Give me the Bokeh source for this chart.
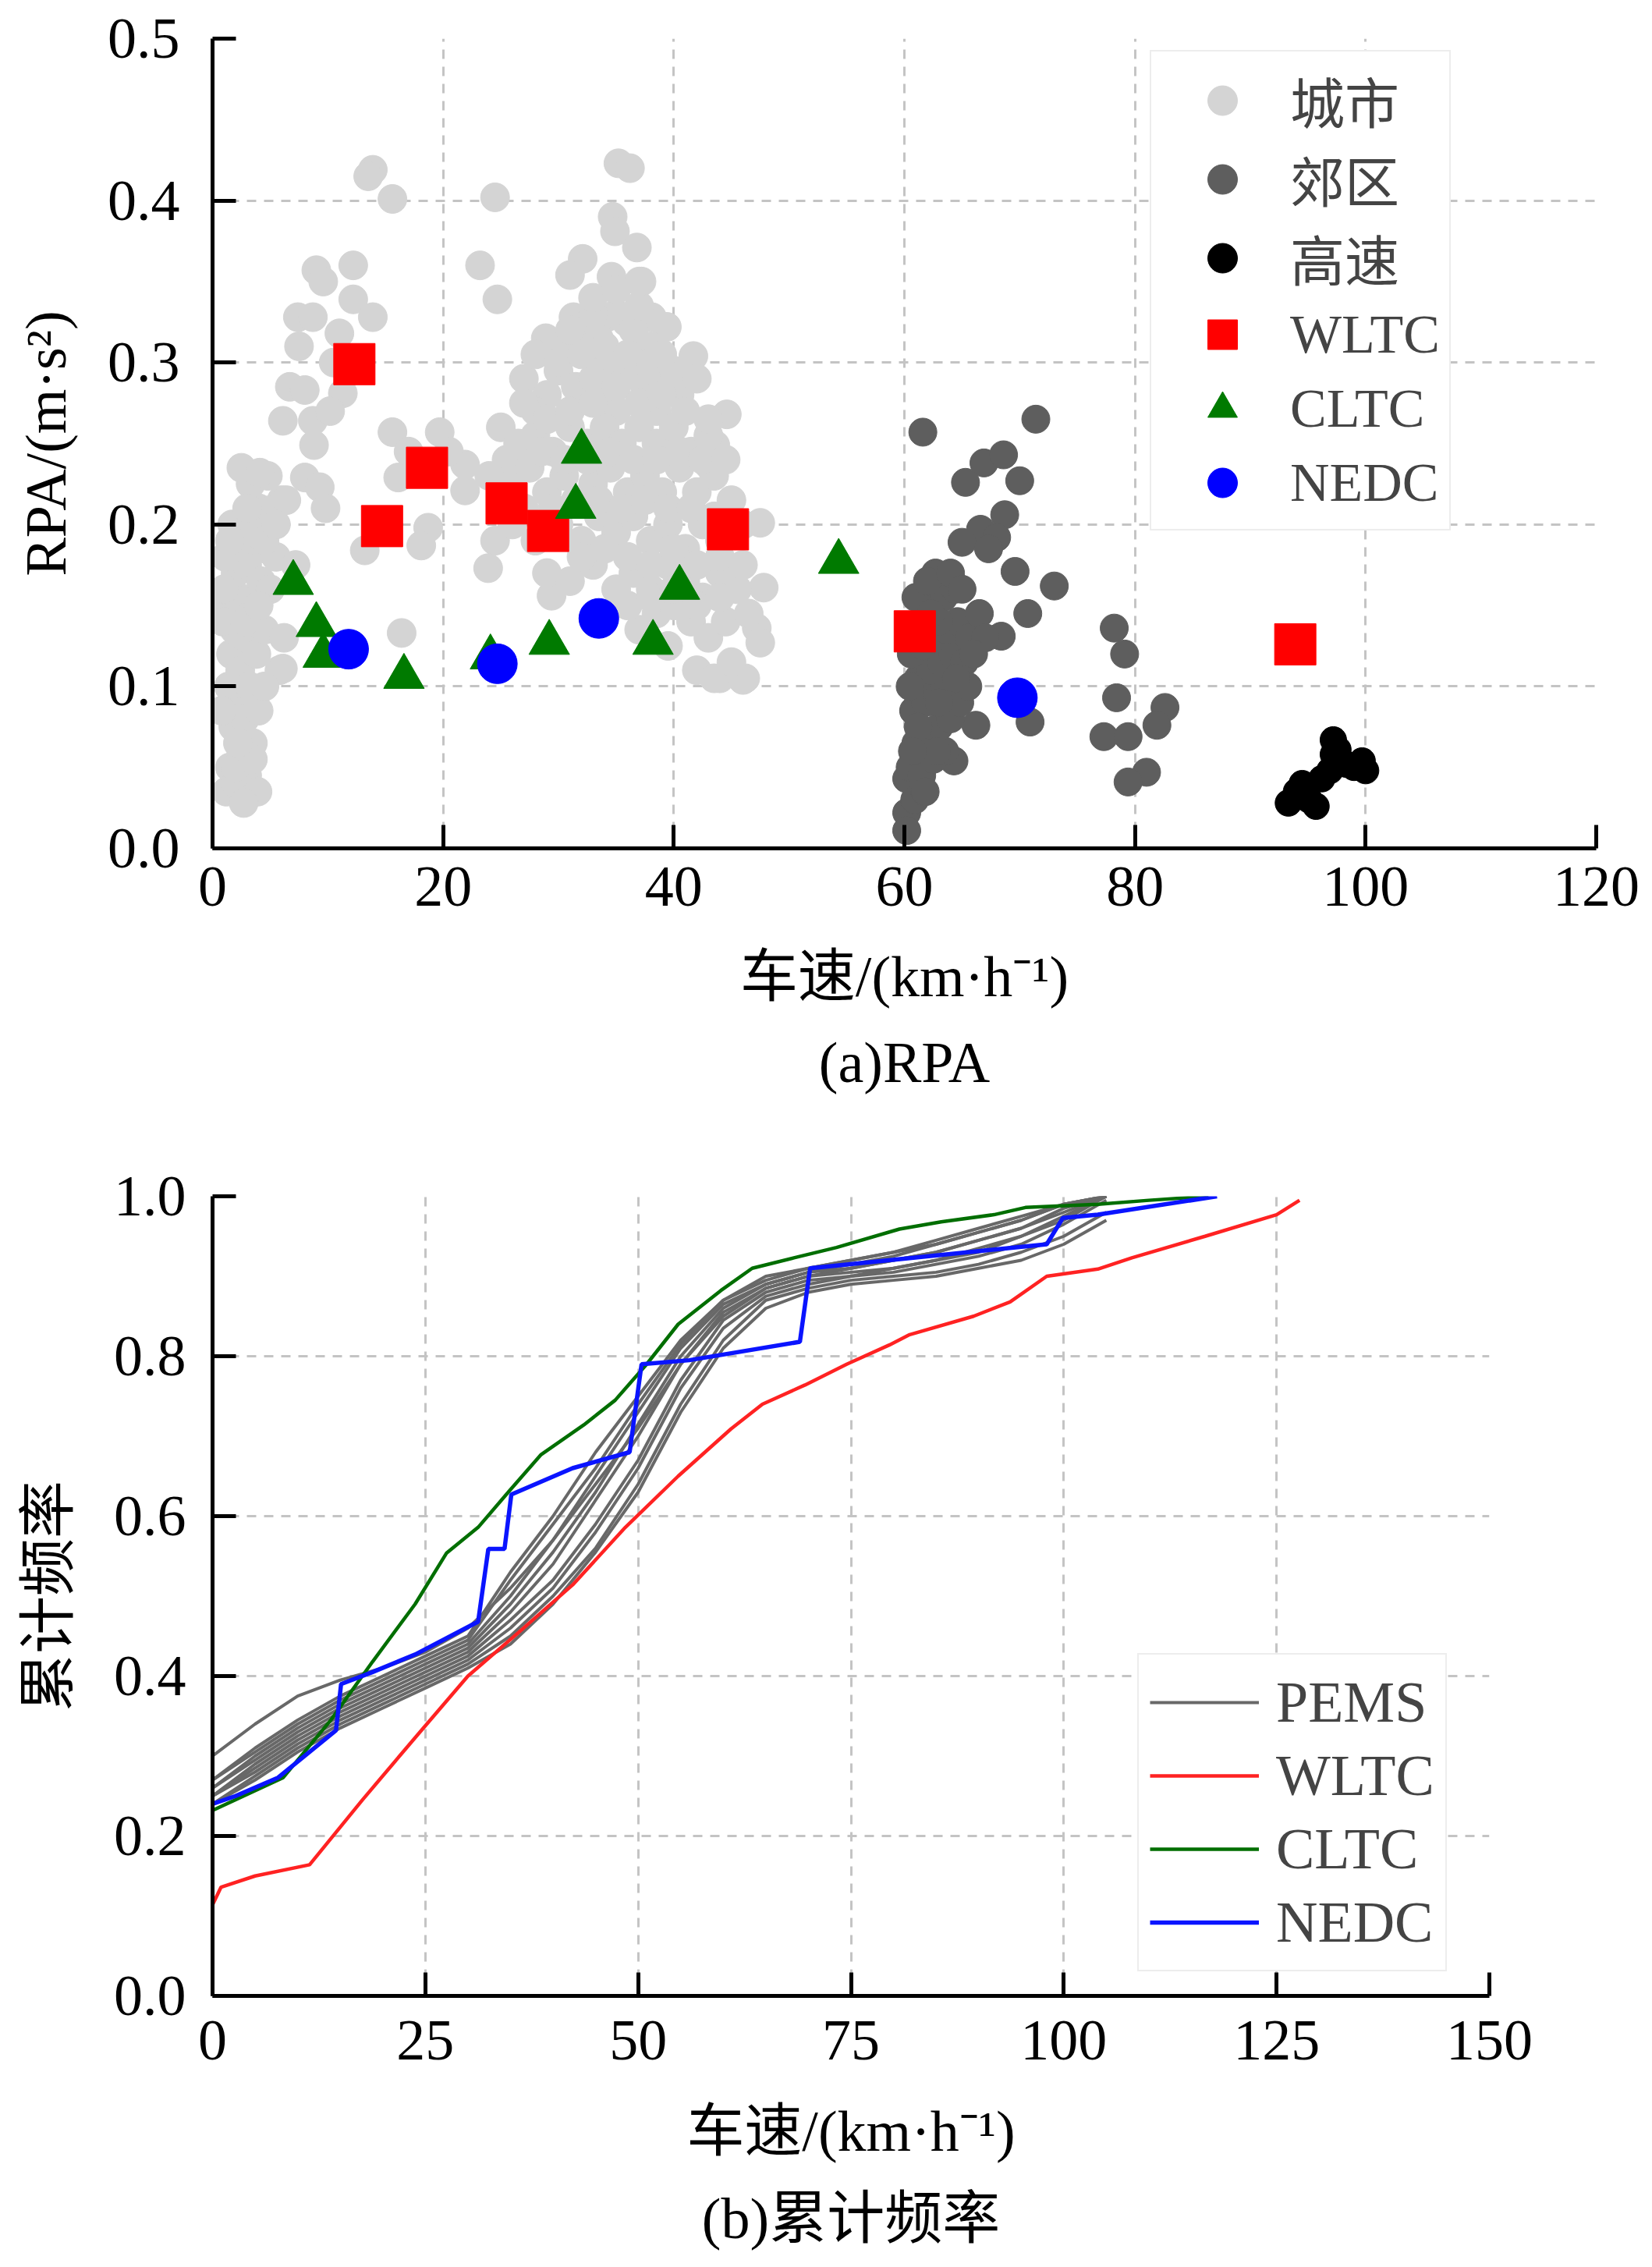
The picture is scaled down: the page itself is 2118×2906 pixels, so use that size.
from bokeh.plotting import figure
from bokeh.models import (Range1d, FixedTicker, NumeralTickFormatter, Legend,
                          LegendItem, Title)
from bokeh.layouts import column
from bokeh.embed import file_html
from bokeh.resources import INLINE

FONT = "'Liberation Serif', 'Noto Sans CJK SC', serif"
FS = "74px"

# ---------------- (a) RPA scatter data ----------------
# urban (城市): left band
urban_x_a = [1.2, 1.5, 2.0, 2.5, 1.8, 3.0, 2.2, 1.4, 2.8, 3.5,
             1.6, 2.4, 3.2, 4.0, 1.9, 2.9, 3.8, 1.3, 2.3, 3.4,
             4.5, 2.0, 3.0, 4.2, 5.0, 2.6, 3.6, 4.6, 5.5, 1.7,
             4.0, 5.2, 3.3, 4.8, 6.0, 2.5, 0.8, 3.9, 2.7, 6.2,
             5.8, 0.9, 1.1]
urban_y_a = [0.035, 0.05, 0.04, 0.06, 0.075, 0.045, 0.09, 0.10, 0.08, 0.065,
             0.12, 0.11, 0.10, 0.085, 0.135, 0.13, 0.12, 0.15, 0.155, 0.145,
             0.135, 0.17, 0.175, 0.165, 0.16, 0.19, 0.195, 0.185, 0.18, 0.20,
             0.21, 0.205, 0.225, 0.23, 0.215, 0.235, 0.085, 0.035, 0.028, 0.13,
             0.11, 0.14, 0.18]
# urban: sparse upper-left
urban_x_b = [13.9, 13.5, 15.6, 9.0, 9.6, 12.2, 12.2, 7.4, 8.7, 13.9,
             6.7, 8.0, 11.3, 6.1, 8.7, 8.8, 15.6, 4.1, 8.0, 9.3,
             3.2, 5.1, 6.4, 19.7, 21.9, 21.9, 16.1, 18.7, 18.1, 13.2,
             16.4, 6.1, 10.5, 7.5, 11.0, 10.2, 4.5, 7.2, 9.8, 20.5,
             17.0, 11.5]
urban_y_b = [0.419, 0.415, 0.401, 0.357, 0.350, 0.360, 0.339, 0.328, 0.328, 0.328,
             0.285, 0.283, 0.281, 0.264, 0.264, 0.249, 0.257, 0.232, 0.229, 0.223,
             0.204, 0.209, 0.215, 0.257, 0.237, 0.221, 0.229, 0.198, 0.187, 0.184,
             0.133, 0.111, 0.300, 0.310, 0.318, 0.270, 0.190, 0.175, 0.210, 0.245,
             0.245, 0.125]
# urban: sparse middle
urban_x_c = [24.5, 35.2, 36.2, 34.7, 34.9, 36.8, 23.2, 32.1, 31.0, 34.6,
             37.2, 24.7, 31.3, 34.2, 35.9, 38.1, 39.4, 28.9, 41.7, 44.6,
             43.6, 43.0, 24.5, 23.9, 47.5, 45.2, 47.8, 47.2, 47.5, 44.0,
             46.2, 29.4]
urban_y_c = [0.402, 0.423, 0.420, 0.390, 0.381, 0.371, 0.360, 0.364, 0.354, 0.353,
             0.350, 0.339, 0.328, 0.328, 0.325, 0.328, 0.322, 0.315, 0.304, 0.268,
             0.249, 0.237, 0.190, 0.173, 0.201, 0.173, 0.161, 0.136, 0.127, 0.105,
             0.105, 0.156]
# urban: dense cloud
urban_x_d = [30.5, 32.0, 33.5, 35.0, 36.5, 38.0, 34.0, 37.0, 33.0,
             27.0, 29.0, 30.0, 31.5, 33.0, 34.5, 36.0, 37.5, 39.0, 40.5, 28.0, 35.0, 38.5,
             25.0, 26.5, 28.0, 29.5, 31.0, 32.5, 34.0, 35.5, 37.0, 38.5, 40.0, 41.5, 43.0, 25.5,
             24.0, 26.0, 27.5, 29.0, 30.5, 33.0, 34.5, 36.0, 37.5, 39.0, 40.5, 42.0, 43.5, 45.0,
             26.0, 28.0, 30.0, 32.0, 33.5, 35.0, 36.5, 38.0, 39.5, 41.0, 42.5, 44.0, 46.0, 27.0,
             29.0, 31.0, 33.0, 35.0, 36.5, 38.0, 39.5, 41.0, 42.5, 44.0, 45.5,
             37.0, 38.5, 41.5, 43.0, 44.5, 40.0, 42.0, 43.5, 46.0, 45.0, 39.5]
urban_y_d = [0.310, 0.320, 0.315, 0.330, 0.320, 0.310, 0.300, 0.335, 0.330,
             0.290, 0.280, 0.295, 0.285, 0.290, 0.280, 0.295, 0.285, 0.290, 0.280, 0.270, 0.270, 0.270,
             0.260, 0.250, 0.255, 0.245, 0.260, 0.250, 0.260, 0.250, 0.260, 0.250, 0.260, 0.245, 0.255, 0.240,
             0.230, 0.225, 0.235, 0.220, 0.230, 0.225, 0.235, 0.220, 0.230, 0.220, 0.235, 0.220, 0.230, 0.215,
             0.200, 0.190, 0.200, 0.190, 0.205, 0.195, 0.205, 0.190, 0.200, 0.185, 0.200, 0.190, 0.200, 0.210,
             0.170, 0.165, 0.175, 0.160, 0.170, 0.160, 0.175, 0.165, 0.155, 0.170, 0.160,
             0.135, 0.145, 0.140, 0.130, 0.140, 0.150, 0.110, 0.105, 0.104, 0.115, 0.125]
# urban: filling of the dense cloud and of the left band
urban_x_e = [28.0, 30.0, 32.0, 34.0, 36.0, 38.0, 40.0, 42.0,
             27.0, 29.0, 31.0, 33.0, 35.0, 37.0, 39.0, 41.0, 43.0,
             28.5, 30.5, 32.5, 34.5, 36.5, 38.5, 40.5, 42.5, 44.5,
             29.5, 31.5, 33.5, 35.5, 37.5, 39.5, 41.5, 43.5,
             32.0, 34.0, 36.0, 38.0, 40.0, 42.0, 44.0, 46.0,
             36.0, 38.0, 40.0, 42.0, 44.0, 46.5,
             31.0, 33.0, 35.0, 37.0, 39.0,
             2.0, 3.5, 4.5, 1.0, 2.8, 4.0, 5.5, 3.0, 1.5, 2.2]
urban_y_e = [0.305, 0.300, 0.305, 0.310, 0.305, 0.300, 0.295, 0.290,
             0.275, 0.265, 0.270, 0.275, 0.285, 0.275, 0.280, 0.270, 0.265,
             0.245, 0.240, 0.240, 0.245, 0.240, 0.240, 0.245, 0.240, 0.240,
             0.210, 0.215, 0.215, 0.210, 0.215, 0.210, 0.210, 0.205,
             0.180, 0.185, 0.180, 0.175, 0.185, 0.175, 0.180, 0.175,
             0.150, 0.155, 0.160, 0.150, 0.155, 0.145,
             0.320, 0.340, 0.345, 0.350, 0.305,
             0.050, 0.055, 0.100, 0.160, 0.140, 0.150, 0.200, 0.210, 0.190, 0.065]

# suburban (郊区)
suburb_x = [61.6, 71.4, 66.9, 68.6, 65.3, 70.0, 68.7, 66.6, 68.0, 65.0,
            67.3, 69.6, 73.0, 62.7, 62.0, 70.7, 68.4, 78.2, 79.1, 78.4,
            82.6, 81.9, 77.3, 79.4, 81.0, 79.4, 70.9, 66.2, 64.3, 60.2,
            60.2, 60.2,
            60.5, 61.5, 62.5, 63.5, 61.0, 62.0, 63.0, 64.0, 60.8, 61.8,
            62.8, 63.8, 64.8, 61.2, 62.2, 63.2, 64.2, 65.2, 60.6, 61.6,
            62.6, 63.6, 64.6, 65.6, 61.4, 62.4, 63.4, 64.4, 66.5, 67.0,
            61.0, 62.0, 63.0, 65.5, 60.5, 61.2, 62.8, 60.9,
            64.0, 65.0, 66.0, 63.0, 61.8, 60.7, 64.5, 62.3]
suburb_y = [0.257, 0.265, 0.238, 0.243, 0.226, 0.227, 0.206, 0.197, 0.192, 0.189,
            0.185, 0.171, 0.162, 0.170, 0.157, 0.145, 0.131, 0.136, 0.120, 0.093,
            0.087, 0.076, 0.069, 0.069, 0.047, 0.041, 0.078, 0.076, 0.054, 0.022,
            0.011, 0.043,
            0.050, 0.045, 0.055, 0.060, 0.065, 0.070, 0.075, 0.080, 0.085, 0.090,
            0.095, 0.100, 0.090, 0.105, 0.110, 0.115, 0.120, 0.115, 0.120, 0.125,
            0.130, 0.135, 0.140, 0.130, 0.140, 0.150, 0.155, 0.160, 0.145, 0.130,
            0.155, 0.165, 0.140, 0.100, 0.100, 0.075, 0.060, 0.030,
            0.170, 0.160, 0.120, 0.090, 0.035, 0.060, 0.105, 0.145]

# highway (高速)
highway_x = [94.0, 95.1, 96.2, 97.2, 97.2, 98.3, 99.7, 100.0, 93.3, 95.7, 96.9, 97.6, 94.5, 99.0]
highway_y = [0.035, 0.030, 0.043, 0.067, 0.058, 0.052, 0.054, 0.048, 0.028, 0.026, 0.048, 0.061, 0.040, 0.050]

# driving cycles
wltc_x = [12.3, 14.7, 18.6, 25.5, 29.1, 44.7, 60.9, 93.9]
wltc_y = [0.299, 0.199, 0.235, 0.213, 0.196, 0.197, 0.134, 0.126]
cltc_x = [7.0, 9.0, 9.6, 16.6, 24.1, 29.2, 32.0, 31.5, 38.2, 40.5, 54.3]
cltc_y = [0.164, 0.138, 0.119, 0.106, 0.118, 0.127, 0.245, 0.211, 0.127, 0.161, 0.177]
nedc_x = [11.8, 24.7, 33.5, 69.8]
nedc_y = [0.123, 0.114, 0.142, 0.093]

urban_x = urban_x_a + urban_x_b + urban_x_c + urban_x_d + urban_x_e
urban_y = urban_y_a + urban_y_b + urban_y_c + urban_y_d + urban_y_e
for a, b in [(urban_x, urban_y), (suburb_x, suburb_y), (highway_x, highway_y),
             (wltc_x, wltc_y), (cltc_x, cltc_y), (nedc_x, nedc_y)]:
    assert len(a) == len(b), (len(a), len(b))

# ---------------- (b) cumulative frequency data ----------------
pems_x = [0, 5, 10, 15, 20, 25, 30, 35, 40, 45, 50, 55, 60, 65, 70, 75, 80, 85, 90, 95, 100, 105]
pems_1 = [0.30, 0.34, 0.375, 0.395, 0.41, 0.43, 0.46, 0.51, 0.57, 0.64, 0.71, 0.79, 0.85, 0.885, 0.90, 0.91, 0.92, 0.93, 0.945, 0.96, 0.98, 1.0]
pems_2 = [0.27, 0.31, 0.345, 0.375, 0.40, 0.425, 0.45, 0.53, 0.60, 0.68, 0.75, 0.82, 0.87, 0.90, 0.91, 0.92, 0.93, 0.945, 0.96, 0.975, 0.99, 1.0]
pems_3 = [0.26, 0.30, 0.335, 0.365, 0.39, 0.415, 0.44, 0.50, 0.57, 0.65, 0.73, 0.81, 0.865, 0.89, 0.905, 0.91, 0.92, 0.93, 0.945, 0.96, 0.985, 1.0]
pems_4 = [0.25, 0.29, 0.325, 0.355, 0.38, 0.405, 0.43, 0.48, 0.54, 0.62, 0.70, 0.79, 0.855, 0.885, 0.90, 0.905, 0.91, 0.92, 0.93, 0.95, 0.975, 1.0]
pems_5 = [0.25, 0.285, 0.32, 0.35, 0.375, 0.40, 0.425, 0.47, 0.52, 0.59, 0.67, 0.77, 0.845, 0.88, 0.895, 0.90, 0.905, 0.915, 0.925, 0.94, 0.965, 0.995]
pems_6 = [0.24, 0.275, 0.31, 0.34, 0.365, 0.39, 0.415, 0.45, 0.50, 0.56, 0.64, 0.74, 0.82, 0.87, 0.885, 0.895, 0.90, 0.905, 0.915, 0.93, 0.95, 0.98]
pems_7 = [0.26, 0.295, 0.33, 0.36, 0.385, 0.41, 0.435, 0.49, 0.555, 0.63, 0.715, 0.80, 0.86, 0.89, 0.905, 0.915, 0.925, 0.94, 0.955, 0.97, 0.99, 1.0]
pems_8 = [0.27, 0.305, 0.34, 0.37, 0.395, 0.42, 0.445, 0.52, 0.59, 0.66, 0.74, 0.815, 0.87, 0.895, 0.91, 0.92, 0.93, 0.94, 0.955, 0.97, 0.99, 1.0]
pems_9 = [0.24, 0.27, 0.305, 0.335, 0.36, 0.385, 0.41, 0.44, 0.49, 0.555, 0.63, 0.73, 0.81, 0.86, 0.88, 0.89, 0.895, 0.90, 0.91, 0.92, 0.94, 0.97]
pems_10 = [0.25, 0.28, 0.315, 0.345, 0.37, 0.395, 0.42, 0.46, 0.51, 0.58, 0.66, 0.76, 0.835, 0.875, 0.89, 0.90, 0.91, 0.92, 0.935, 0.95, 0.97, 1.0]
pems_series = [pems_1, pems_2, pems_3, pems_4, pems_5, pems_6, pems_7, pems_8, pems_9, pems_10]

wltc_cx = [0, 1, 5, 11.4, 17.6, 23.8, 30.0, 36.0, 42.3, 48.5, 54.7, 60.9, 64.6, 69.6, 74.5, 79.5, 81.9, 89.4, 93.7, 98.0, 104.0, 108.0, 116.6, 125.0, 127.7]
wltc_cy = [0.114, 0.136, 0.15, 0.164, 0.245, 0.323, 0.40, 0.455, 0.514, 0.586, 0.65, 0.709, 0.74, 0.764, 0.79, 0.814, 0.827, 0.85, 0.868, 0.90, 0.909, 0.923, 0.95, 0.977, 0.995]
cltc_cx = [0, 8.3, 13.9, 18.8, 23.8, 27.5, 31.2, 34.9, 38.6, 43.6, 47.3, 51.0, 54.7, 59.7, 63.4, 68.3, 73.3, 80.7, 85.6, 91.8, 95.5, 104.0, 110.0, 117.0]
cltc_cy = [0.232, 0.273, 0.345, 0.418, 0.49, 0.554, 0.586, 0.632, 0.677, 0.714, 0.745, 0.79, 0.84, 0.882, 0.91, 0.923, 0.936, 0.959, 0.968, 0.977, 0.986, 0.99, 0.995, 1.0]
nedc_cx = [0, 2.7, 7.7, 14.5, 15.1, 18.8, 23.8, 31.2, 32.4, 34.3, 35.1, 42.3, 49.0, 50.4, 56.0, 69.0, 70.2, 98.0, 99.9, 104.0, 118.0]
nedc_cy = [0.24, 0.25, 0.273, 0.332, 0.39, 0.405, 0.427, 0.468, 0.559, 0.559, 0.627, 0.66, 0.68, 0.79, 0.795, 0.818, 0.91, 0.94, 0.973, 0.977, 1.0]

a_xticks = [0, 20, 40, 60, 80, 100, 120]
a_yticks = [0.0, 0.1, 0.2, 0.3, 0.4, 0.5]
b_xticks = [0, 25, 50, 75, 100, 125, 150]
b_yticks = [0.0, 0.2, 0.4, 0.6, 0.8, 1.0]


def style(p, xt, yt, xg, yg):
    p.outline_line_color = None
    p.xaxis.ticker = FixedTicker(ticks=xt)
    p.yaxis.ticker = FixedTicker(ticks=yt)
    p.xaxis.formatter = NumeralTickFormatter(format="0")
    p.yaxis.formatter = NumeralTickFormatter(format="0.0")
    for ax in (p.xaxis[0], p.yaxis[0]):
        ax.axis_line_width = 5
        ax.axis_line_color = "black"
        ax.major_tick_line_width = 5
        ax.major_tick_line_color = "black"
        ax.major_tick_in = 30
        ax.major_tick_out = 0
        ax.minor_tick_line_color = None
        ax.major_label_text_font = FONT
        ax.major_label_text_font_size = FS
        ax.major_label_text_color = "black"
        ax.axis_label_text_font = FONT
        ax.axis_label_text_font_size = FS
        ax.axis_label_text_font_style = "normal"
        ax.axis_label_text_color = "black"
    p.xgrid.ticker = FixedTicker(ticks=xg)
    p.ygrid.ticker = FixedTicker(ticks=yg)
    for g in (p.xgrid[0], p.ygrid[0]):
        g.grid_line_color = "#c4c4c4"
        g.grid_line_width = 3
        g.grid_line_dash = "12 10"


# ---------------- figure (a) ----------------
p1 = figure(frame_width=1774, frame_height=1038,
            min_border_left=272, min_border_right=56, min_border_top=49, min_border_bottom=345,
            x_range=Range1d(0, 120), y_range=Range1d(0, 0.5),
            output_backend="svg", toolbar_location=None)
style(p1, a_xticks, a_yticks, [20, 40, 60, 80, 100], [0.1, 0.2, 0.3, 0.4])
p1.xaxis.axis_label = "车速/(km·h⁻¹)"
p1.yaxis.axis_label = "RPA/(m·s²)"
p1.xaxis.major_label_standoff = 24
p1.yaxis.major_label_standoff = 42
p1.xaxis.axis_label_standoff = 47
p1.yaxis.axis_label_standoff = 35

r_u = p1.scatter(urban_x, urban_y, marker="circle", size=37, color="#d4d4d4")
r_s = p1.scatter(suburb_x, suburb_y, marker="circle", size=36, color="#5e5e5e")
r_h = p1.scatter(highway_x, highway_y, marker="circle", size=34, color="black")
r_w = p1.scatter(wltc_x, wltc_y, marker="square", size=53, color="#ff0000")
r_c = p1.scatter(cltc_x, cltc_y, marker="triangle", size=52, color="#007a00")
r_n = p1.scatter(nedc_x, nedc_y, marker="circle", size=51, color="#0000ff")

leg1 = Legend(items=[LegendItem(label="城市", renderers=[r_u]),
                     LegendItem(label="郊区", renderers=[r_s]),
                     LegendItem(label="高速", renderers=[r_h]),
                     LegendItem(label="WLTC", renderers=[r_w]),
                     LegendItem(label="CLTC", renderers=[r_c]),
                     LegendItem(label="NEDC", renderers=[r_n])],
              location=(1202, 407), margin=0, padding=12, spacing=0,
              glyph_width=158, glyph_height=95, label_standoff=8,
              label_text_font=FONT, label_text_font_size="70px", label_text_line_height=1.0,
              border_line_color="#dcdcdc", border_line_width=2,
              background_fill_color="white", background_fill_alpha=1.0)
p1.add_layout(leg1)
p1.add_layout(Title(text="(a)RPA", align="center", text_font=FONT, text_font_size=FS,
                    text_font_style="normal", text_color="black", standoff=46), "below")

# ---------------- figure (b) ----------------
p2 = figure(frame_width=1637, frame_height=1025,
            min_border_left=272, min_border_right=193, min_border_top=101, min_border_bottom=332,
            x_range=Range1d(0, 150), y_range=Range1d(0, 1.0),
            output_backend="svg", toolbar_location=None)
style(p2, b_xticks, b_yticks, [25, 50, 75, 100, 125], [0.2, 0.4, 0.6, 0.8])
p2.xaxis.axis_label = "车速/(km·h⁻¹)"
p2.yaxis.axis_label = "累计频率"
p2.xaxis.major_label_standoff = 32
p2.yaxis.major_label_standoff = 34
p2.xaxis.axis_label_standoff = 48
p2.yaxis.axis_label_standoff = 40

pems_renderers = []
for s in pems_series:
    pems_renderers.append(p2.line(pems_x, s, line_color="#686868", line_width=4))
r_wl = p2.line(wltc_cx, wltc_cy, line_color="#ff2222", line_width=4.5)
r_cl = p2.line(cltc_cx, cltc_cy, line_color="#006e00", line_width=4.5)
r_ne = p2.line(nedc_cx, nedc_cy, line_color="#0a14ff", line_width=5.5)

leg2 = Legend(items=[LegendItem(label="PEMS", renderers=[pems_renderers[0]]),
                     LegendItem(label="WLTC", renderers=[r_wl]),
                     LegendItem(label="CLTC", renderers=[r_cl]),
                     LegendItem(label="NEDC", renderers=[r_ne])],
              location=(1186, 31), margin=0, padding=14, spacing=0,
              glyph_width=140, glyph_height=94, label_standoff=22,
              label_text_font=FONT, label_text_font_size=FS, label_text_line_height=1.0,
              border_line_color="#dcdcdc", border_line_width=2,
              background_fill_color="white", background_fill_alpha=1.0)
p2.add_layout(leg2)
p2.add_layout(Title(text="(b)累计频率", align="center", text_font=FONT, text_font_size=FS,
                    text_font_style="normal", text_color="black", standoff=50), "below")

layout = column(p1, p2, spacing=0)
open("out.html", "w").write(file_html(layout, INLINE))
